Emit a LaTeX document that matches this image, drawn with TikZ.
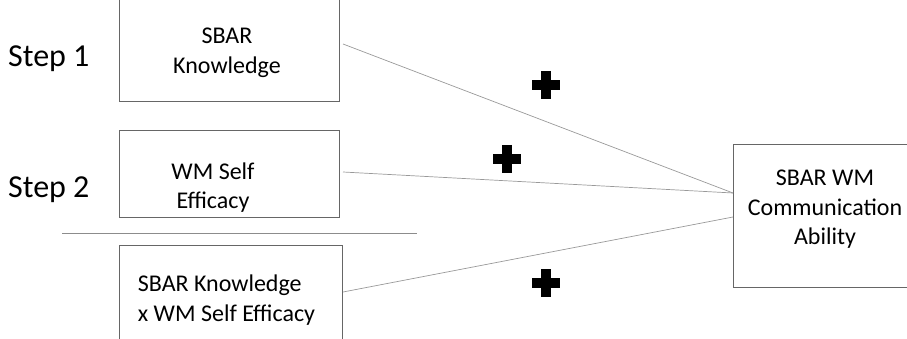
\documentclass[tikz,border=0pt]{standalone}
\usepackage{fontspec}
\setmainfont{Carlito}
\usepackage{xcolor}
\usepackage{tikz}

\begin{document}
\begin{tikzpicture}[x=1pt, y=-1pt,
    box/.style={draw=black!60, line width=0.8pt, inner sep=0pt},
    boxtext/.style={font=\fontsize{24}{29.5}\selectfont, align=center},
    steplabel/.style={font=\fontsize{32}{38}\selectfont, anchor=base west, inner sep=0pt},
    path/.style={draw=black!40, line width=0.7pt},
    plusmark/.style={line width=9.5pt}]
    \useasboundingbox (0,0) rectangle (907,339);

    % Predictor boxes
    \node[box, minimum width=220pt, minimum height=111pt] (know) at (229,45.5) {};
    \node[boxtext] at (227,53) {SBAR\\Knowledge};
    \node[box, minimum width=220pt, minimum height=87pt,
          label={[boxtext, xshift=-16pt, yshift=-14pt]center:WM Self\\Efficacy}] (effic) at (229,173.5) {};
    \node[box, minimum width=223pt, minimum height=110pt,
          label={[boxtext, align=left, xshift=-4pt]center:SBAR Knowledge\\x WM Self Efficacy}] (inter) at (230.5,300) {};

    % Outcome box
    \node[box, minimum width=174pt, minimum height=143pt,
          label={[boxtext, xshift=5pt, yshift=6pt]center:SBAR WM\\Communication\\Ability}] (comm) at (820,215.5) {};

    % Step labels
    \node[steplabel] (step1) at (8,67) {Step 1};
    \node[steplabel] (step2) at (8,197) {Step 2};

    % Divider between steps
    \draw[black!45, line width=0.7pt] (62,233) -- (417,233);

    % Paths into the outcome
    \coordinate (know-out) at (343,44);
    \coordinate (effic-out) at (343,172);
    \coordinate (inter-out) at (343,292);
    \coordinate (comm-in1) at (733,193);
    \coordinate (comm-in2) at (733,217);
    \draw[path] (know-out) -- (comm-in1);
    \draw[path] (effic-out) -- (comm-in1);
    \draw[path] (inter-out) -- (comm-in2);

    % Positive signs
    \foreach \px/\py in {546/85, 507/159, 546/283}
        \draw[plusmark] (\px-14,\py) -- (\px+14,\py) (\px,\py-14) -- (\px,\py+14);
\end{tikzpicture}
\end{document}
